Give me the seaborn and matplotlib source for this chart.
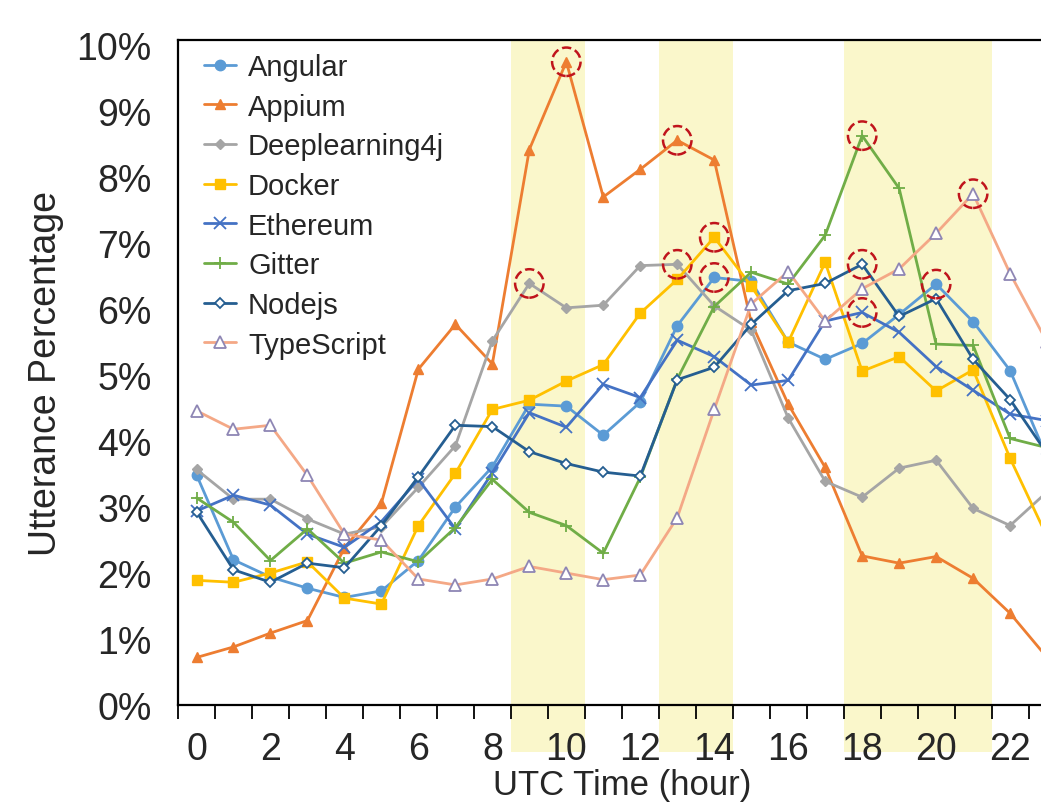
import matplotlib
matplotlib.use("Agg")
import matplotlib.pyplot as plt
import seaborn as sns
from matplotlib.ticker import FuncFormatter, MultipleLocator

# Data (utterance share per UTC hour, in percent)
hours = list(range(24))

angular = [3.49, 2.20, 1.94, 1.77, 1.63, 1.73, 2.19, 3.00, 3.61, 4.56, 4.53, 4.09,
           4.59, 5.75, 6.48, 6.42, 5.50, 5.24, 5.48, 5.92, 6.38, 5.81, 5.07, 3.75]
appium = [0.72, 0.88, 1.09, 1.28, 2.38, 3.06, 5.09, 5.77, 5.17, 8.42, 9.75, 7.70,
          8.12, 8.56, 8.26, 5.80, 4.56, 3.60, 2.26, 2.15, 2.25, 1.92, 1.39, 0.72]
deeplearning4j = [3.57, 3.12, 3.12, 2.82, 2.59, 2.70, 3.30, 3.93, 5.52, 6.39, 6.02, 6.06,
                  6.66, 6.68, 6.05, 5.68, 4.35, 3.39, 3.15, 3.59, 3.71, 2.98, 2.72, 3.23]
docker = [1.89, 1.86, 2.00, 2.17, 1.62, 1.53, 2.72, 3.51, 4.48, 4.62, 4.91, 5.16,
          5.94, 6.45, 7.09, 6.35, 5.50, 6.71, 5.06, 5.28, 4.76, 5.08, 3.74, 2.55]
ethereum = [2.94, 3.18, 3.03, 2.59, 2.39, 2.78, 3.42, 2.67, 3.52, 4.43, 4.21, 4.86,
            4.66, 5.53, 5.28, 4.85, 4.92, 5.82, 5.95, 5.65, 5.13, 4.77, 4.41, 4.31]
gitter = [3.14, 2.77, 2.19, 2.67, 2.15, 2.32, 2.17, 2.69, 3.42, 2.92, 2.72, 2.30,
          3.45, 4.94, 6.04, 6.56, 6.38, 7.12, 8.63, 7.83, 5.47, 5.45, 4.04, 3.90]
nodejs = [2.93, 2.05, 1.86, 2.15, 2.08, 2.72, 3.46, 4.24, 4.22, 3.84, 3.66, 3.53,
          3.47, 4.93, 5.12, 5.77, 6.28, 6.39, 6.68, 5.89, 6.16, 5.24, 4.63, 3.81]
typescript = [4.46, 4.18, 4.24, 3.48, 2.59, 2.50, 1.91, 1.82, 1.91, 2.10, 2.00, 1.90,
              1.97, 2.84, 4.48, 6.08, 6.57, 5.82, 6.31, 6.61, 7.15, 7.75, 6.54, 5.50]

series = {
    "Angular": angular,
    "Appium": appium,
    "Deeplearning4j": deeplearning4j,
    "Docker": docker,
    "Ethereum": ethereum,
    "Gitter": gitter,
    "Nodejs": nodejs,
    "TypeScript": typescript,
}

# Highlighted peaks: (series, hour)
peaks = [("Appium", 10), ("Appium", 13), ("Deeplearning4j", 9), ("Deeplearning4j", 13),
         ("Docker", 14), ("Angular", 14), ("Gitter", 18), ("Nodejs", 18),
         ("Ethereum", 18), ("Angular", 20), ("TypeScript", 21)]

# Busy periods shaded in yellow
bands = [(8.5, 10.5), (12.5, 14.5), (17.5, 21.5)]

# Styling
styles = {
    "Angular": dict(color="#5B9BD5", marker="o", ms=7.5),
    "Appium": dict(color="#ED7D31", marker="^", ms=7.5),
    "Deeplearning4j": dict(color="#A5A5A5", marker="D", ms=5.5),
    "Docker": dict(color="#FFC000", marker="s", ms=7.5),
    "Ethereum": dict(color="#4472C4", marker="x", ms=8, mew=1.3),
    "Gitter": dict(color="#70AD47", marker="+", ms=9, mew=1.3),
    "Nodejs": dict(color="#255E91", marker="D", ms=5.5, mfc="white", mew=1.3),
    "TypeScript": dict(color="#F4A886", marker="^", ms=8, mfc="white",
                       mec="#8E86B4", mew=1.3),
}

sns.set_style("white")
plt.rcParams["font.family"] = ["Liberation Sans", "DejaVu Sans"]

fig = plt.figure(figsize=(10.41, 8.04), dpi=100)
# axes runs past the right edge of the figure (cropped like the original)
ax = fig.add_axes([0.171, 0.1219, 0.8526, 0.8271])

for lo, hi in bands:
    ax.axvspan(lo, hi, ymin=-0.07, ymax=1, color="#FAF7CB", zorder=0,
               clip_on=False, lw=0)

for name, vals in series.items():
    st = styles[name]
    sns.lineplot(x=hours, y=vals, ax=ax, label=name, color=st["color"], lw=2,
                 marker=st["marker"], markersize=st["ms"],
                 markerfacecolor=st.get("mfc", st["color"]),
                 markeredgecolor=st.get("mec", st["color"]),
                 markeredgewidth=st.get("mew", 1), zorder=3)

px = [h for _, h in peaks]
py = [series[s][h] for s, h in peaks]
ax.scatter(px, py, s=420, facecolors="none", edgecolors="#C0141C",
           linestyles="--", linewidths=1.8, zorder=4)

ax.set_xlim(-0.5, 23.5)
ax.set_ylim(0, 10.08)
ax.xaxis.set_major_locator(MultipleLocator(2))
ax.xaxis.set_minor_locator(MultipleLocator(1, offset=0.5))
ax.yaxis.set_major_locator(MultipleLocator(1))
ax.yaxis.set_major_formatter(FuncFormatter(lambda v, _: f"{int(round(v))}%"))
ax.tick_params(axis="x", which="major", length=0, pad=19, labelsize=27)
ax.tick_params(axis="x", which="minor", length=10, width=1.3, direction="out",
               color="black", bottom=True)
ax.tick_params(axis="y", length=0, pad=19, labelsize=27)
for sp in ax.spines.values():
    sp.set_color("black")
    sp.set_linewidth(1.6)

ax.set_xlabel("UTC Time (hour)", fontsize=25, va="bottom")
ax.set_ylabel("Utterance Percentage", fontsize=27)
ax.xaxis.set_label_coords(0.5, -0.1445)
ax.yaxis.set_label_coords(-0.128, 0.5)

ax.legend(loc="upper left", bbox_to_anchor=(0.0, 1.02), frameon=False,
          fontsize=21, handlelength=1.1, handletextpad=0.4, labelspacing=0.4,
          borderaxespad=0.5)

fig.savefig("out.png", dpi=100)
